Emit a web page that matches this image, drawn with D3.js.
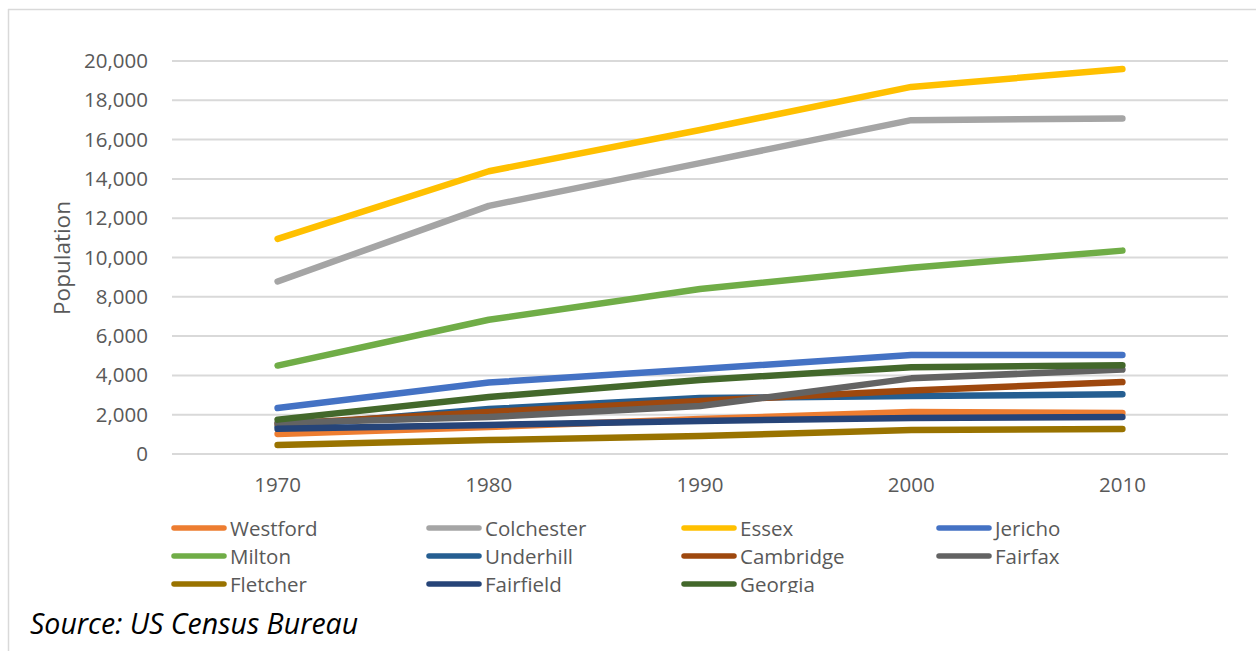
<!DOCTYPE html>
<html>
<head>
<meta charset="utf-8">
<script src="https://d3js.org/d3.v7.min.js"></script>
<style>
  body { margin: 0; background: #fff; }
  svg { display: block; }
</style>
</head>
<body>
<div id="chart"></div>
<script>
// population by town
const years = ["1970", "1980", "1990", "2000", "2010"];
const yTicks = [0, 2000, 4000, 6000, 8000, 10000, 12000, 14000, 16000, 18000, 20000];

const westford   = [1020, 1370, 1780, 2140, 2090];
const colchester = [8780, 12630, 14800, 16990, 17070];
const essex      = [10950, 14390, 16490, 18680, 19590];
const jericho    = [2340, 3640, 4320, 5040, 5040];
const milton     = [4500, 6830, 8400, 9480, 10350];
const underhill  = [1400, 2290, 2850, 2950, 3040];
const cambridge  = [1530, 2140, 2700, 3230, 3660];
const fairfax    = [1580, 1880, 2440, 3850, 4300];
const fletcher   = [460, 710, 920, 1220, 1270];
const fairfield  = [1280, 1480, 1680, 1830, 1880];
const georgia    = [1750, 2900, 3770, 4420, 4520];

const towns = ["Westford", "Colchester", "Essex", "Jericho", "Milton", "Underhill",
               "Cambridge", "Fairfax", "Fletcher", "Fairfield", "Georgia"];
const townValues = [westford, colchester, essex, jericho, milton, underhill,
                    cambridge, fairfax, fletcher, fairfield, georgia];
const colors = ["#ED7D31", "#A5A5A5", "#FFC000", "#4472C4", "#70AD47", "#255E91",
                "#9E480E", "#636363", "#997300", "#264478", "#43682B"];

const series = towns.map((name, i) => ({
    name: name,
    color: colors[i],
    values: townValues[i].map((v, j) => ({ year: years[j], value: v }))
}));

const width = 1256;
const height = 651;
const margin = { top: 61, right: 28, bottom: 197, left: 172 };
const font = "'Open Sans', 'Noto Sans', sans-serif";

const svg = d3.select("#chart")
    .append("svg")
    .attr("width", width)
    .attr("height", height)
    .style("font-family", font);

svg.append("defs").append("clipPath")
    .attr("id", "chartClip")
    .append("rect")
    .attr("x", 0).attr("y", 0)
    .attr("width", width).attr("height", 593);

const chart = svg.append("g").attr("clip-path", "url(#chartClip)");

// chart frame (only top and left edges show)
svg.append("line")
    .attr("x1", 8).attr("x2", width).attr("y1", 9.5).attr("y2", 9.5)
    .attr("stroke", "#d9d9d9").attr("stroke-width", 1.5);
svg.append("line")
    .attr("x1", 8.5).attr("x2", 8.5).attr("y1", 9).attr("y2", height)
    .attr("stroke", "#d9d9d9").attr("stroke-width", 1.5);

const xScale = d3.scaleBand()
    .domain(years)
    .range([margin.left, width - margin.right]);

const yScale = d3.scaleLinear()
    .domain([0, 20000])
    .range([height - margin.bottom, margin.top]);

// gridlines
chart.append("g")
    .selectAll("line")
    .data(yTicks)
    .join("line")
    .attr("x1", margin.left)
    .attr("x2", width - margin.right)
    .attr("y1", d => yScale(d))
    .attr("y2", d => yScale(d))
    .attr("stroke", "#d9d9d9")
    .attr("stroke-width", 2);

const yAxis = chart.append("g")
    .attr("transform", `translate(${margin.left},0)`)
    .call(d3.axisLeft(yScale).tickValues(yTicks).tickFormat(d3.format(",")).tickSize(0).tickPadding(24));
yAxis.select(".domain").remove();
yAxis.selectAll("text")
    .style("font-family", font)
    .style("font-size", "20.5px")
    .attr("fill", "#595959");

const xAxis = chart.append("g")
    .attr("transform", `translate(0,${height - margin.bottom})`)
    .call(d3.axisBottom(xScale).tickSize(0).tickPadding(23));
xAxis.select(".domain").remove();
xAxis.selectAll("text")
    .style("font-family", font)
    .style("font-size", "20.5px")
    .attr("fill", "#595959");

chart.append("text")
    .attr("transform", "translate(61,258)rotate(-90)")
    .attr("text-anchor", "middle")
    .attr("dominant-baseline", "central")
    .style("font-size", "22.5px")
    .attr("fill", "#595959")
    .text("Population");

const line = d3.line()
    .x(d => xScale(d.year) + xScale.bandwidth() / 2)
    .y(d => yScale(d.value));

chart.append("g")
    .selectAll("path")
    .data(series)
    .join("path")
    .attr("d", d => line(d.values))
    .attr("fill", "none")
    .attr("stroke", d => d.color)
    .attr("stroke-width", 6.5)
    .attr("stroke-linecap", "round")
    .attr("stroke-linejoin", "round");

// legend, 4 columns
const legend = chart.append("g")
    .selectAll("g")
    .data(series)
    .join("g")
    .attr("transform", (d, i) => `translate(${171 + (i % 4) * 255},${528 + Math.floor(i / 4) * 28})`);

legend.append("line")
    .attr("x1", 3).attr("x2", 53)
    .attr("stroke", d => d.color)
    .attr("stroke-width", 5.5)
    .attr("stroke-linecap", "round");

legend.append("text")
    .attr("x", 59)
    .attr("dominant-baseline", "central")
    .style("font-size", "20.5px")
    .attr("fill", "#595959")
    .text(d => d.name);

svg.append("text")
    .attr("x", 30)
    .attr("y", 634)
    .style("font-size", "28.5px")
    .style("font-style", "italic")
    .attr("fill", "#000")
    .text("Source: US Census Bureau");
</script>
</body>
</html>
